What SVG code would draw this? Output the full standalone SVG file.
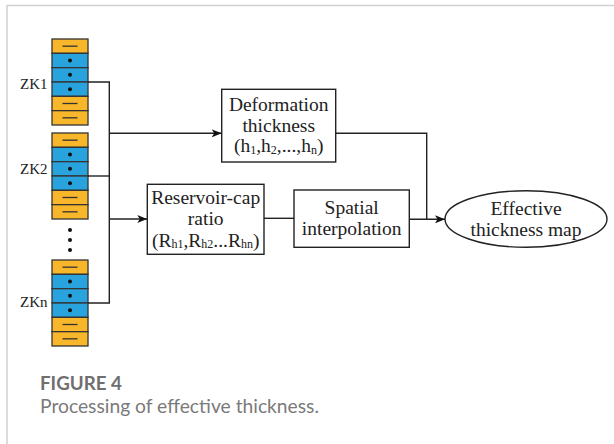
<svg xmlns="http://www.w3.org/2000/svg" width="614" height="444" viewBox="0 0 614 444">
<style>
.frame{stroke:#d0d0d0;stroke-width:1.5;fill:none}
.o{fill:#F8B62A;stroke:#333;stroke-width:1.3}
.b{fill:#29A3DD;stroke:#333;stroke-width:1.3}
.dash{stroke:#333;stroke-width:1.3;fill:none}
.dot{fill:#111}
.box{fill:#fff;stroke:#222;stroke-width:1.4}
.ln{fill:none;stroke:#222;stroke-width:1.4}
.t{font-family:"Liberation Serif","Times New Roman",serif;font-size:19.5px;fill:#222;text-anchor:middle}
.lbl{font-family:"Liberation Serif","Times New Roman",serif;font-size:15px;fill:#222}
.sub{font-size:12px}
.cap1{font-family:Lato,"Open Sans",sans-serif;font-weight:bold;font-size:18.5px;fill:#6f6f6f}
.cap2{font-family:Lato,"Open Sans",sans-serif;font-size:18.5px;fill:#7a7a7a}
</style>
<defs>
<marker id="ah" viewBox="0 0 10 8" refX="10" refY="4" markerWidth="10" markerHeight="8" markerUnits="userSpaceOnUse" orient="auto">
<path d="M0,0 L10,4 L0,8 L2.5,4 Z" fill="#111"/>
</marker>
</defs>
<path class="frame" d="M7,444 V5.5 H614"/>
<g id="zk1">
<rect class="o" x="52" y="39" width="36" height="14.33"/><path class="dash" d="M62.5,46.17 H77.5"/>
<rect class="b" x="52" y="53.33" width="36" height="14.33"/><circle class="dot" cx="70" cy="60.5" r="2"/>
<rect class="b" x="52" y="67.67" width="36" height="14.33"/><circle class="dot" cx="70" cy="74.83" r="2"/>
<rect class="b" x="52" y="82" width="36" height="14.33"/><circle class="dot" cx="70" cy="89.17" r="2"/>
<rect class="o" x="52" y="96.33" width="36" height="14.33"/><path class="dash" d="M62.5,103.5 H77.5"/>
<rect class="o" x="52" y="110.67" width="36" height="14.33"/><path class="dash" d="M62.5,117.83 H77.5"/>
<text class="lbl" x="20" y="88.5">ZK1</text>
</g>
<g id="zk2">
<rect class="o" x="52" y="133" width="36" height="14.33"/><path class="dash" d="M62.5,140.17 H77.5"/>
<rect class="b" x="52" y="147.33" width="36" height="14.33"/><circle class="dot" cx="70" cy="154.5" r="2"/>
<rect class="b" x="52" y="161.67" width="36" height="14.33"/><circle class="dot" cx="70" cy="168.83" r="2"/>
<rect class="b" x="52" y="176" width="36" height="14.33"/><circle class="dot" cx="70" cy="183.17" r="2"/>
<rect class="o" x="52" y="190.33" width="36" height="14.33"/><path class="dash" d="M62.5,197.5 H77.5"/>
<rect class="o" x="52" y="204.67" width="36" height="14.33"/><path class="dash" d="M62.5,211.83 H77.5"/>
<text class="lbl" x="20" y="173.5">ZK2</text>
</g>
<g id="dots"><circle class="dot" cx="70" cy="230" r="2"/><circle class="dot" cx="70" cy="240" r="2"/><circle class="dot" cx="70" cy="250" r="2"/></g>
<g id="zkn">
<rect class="o" x="52" y="260" width="36" height="14.33"/><path class="dash" d="M62.5,267.17 H77.5"/>
<rect class="b" x="52" y="274.33" width="36" height="14.33"/><circle class="dot" cx="70" cy="281.5" r="2"/>
<rect class="b" x="52" y="288.67" width="36" height="14.33"/><circle class="dot" cx="70" cy="295.83" r="2"/>
<rect class="b" x="52" y="303" width="36" height="14.33"/><circle class="dot" cx="70" cy="310.17" r="2"/>
<rect class="o" x="52" y="317.33" width="36" height="14.33"/><path class="dash" d="M62.5,324.5 H77.5"/>
<rect class="o" x="52" y="331.67" width="36" height="14.33"/><path class="dash" d="M62.5,338.83 H77.5"/>
<text class="lbl" x="20" y="306.5">ZKn</text>
</g>
<g id="connectors">
<path class="ln" d="M88,82 H109.3 V303 H88"/>
<path class="ln" d="M88,176 H109.3"/>
<path class="ln" d="M109.3,133.3 H221.7" marker-end="url(#ah)"/>
<path class="ln" d="M109.3,219 H147.3" marker-end="url(#ah)"/>
<path class="ln" d="M264,218.3 H294"/>
<path class="ln" d="M335.7,133.3 H426.7 V219.3"/>
<path class="ln" d="M409.3,219.3 H445" marker-end="url(#ah)"/>
</g>
<g id="deformation">
<rect class="box" x="221.7" y="89.3" width="114" height="72.7"/>
<text class="t" x="278.7" y="110.7">Deformation</text>
<text class="t" x="278.7" y="131.5">thickness</text>
<text class="t" x="278.7" y="152">(h<tspan class="sub" dy="1.5">1</tspan><tspan dy="-1.5">,h</tspan><tspan class="sub" dy="1.5">2</tspan><tspan dy="-1.5">,...,h</tspan><tspan class="sub" dy="1.5">n</tspan><tspan dy="-1.5">)</tspan></text>
</g>
<g id="reservoir">
<rect class="box" x="147.3" y="184.3" width="116.7" height="70"/>
<text class="t" x="205.7" y="203.5">Reservoir-cap</text>
<text class="t" x="205.7" y="225">ratio</text>
<text class="t" x="205.7" y="246.7">(R<tspan class="sub" dy="1">h1</tspan><tspan dy="-1">,R</tspan><tspan class="sub" dy="1">h2</tspan><tspan dy="-1">...R</tspan><tspan class="sub" dy="1">hn</tspan><tspan dy="-1">)</tspan></text>
</g>
<g id="spatial">
<rect class="box" x="294" y="190" width="115.3" height="57.3"/>
<text class="t" x="351.7" y="214.3">Spatial</text>
<text class="t" x="351.7" y="235">interpolation</text>
</g>
<g id="effective">
<ellipse class="box" cx="526" cy="219" rx="81" ry="28.3"/>
<text class="t" x="526" y="215">Effective</text>
<text class="t" x="526" y="235.5">thickness map</text>
</g>
<text class="cap1" x="40" y="390" textLength="82" lengthAdjust="spacingAndGlyphs">FIGURE 4</text>
<text class="cap2" x="40" y="412.7" textLength="279" lengthAdjust="spacingAndGlyphs">Processing of effective thickness.</text>
</svg>
